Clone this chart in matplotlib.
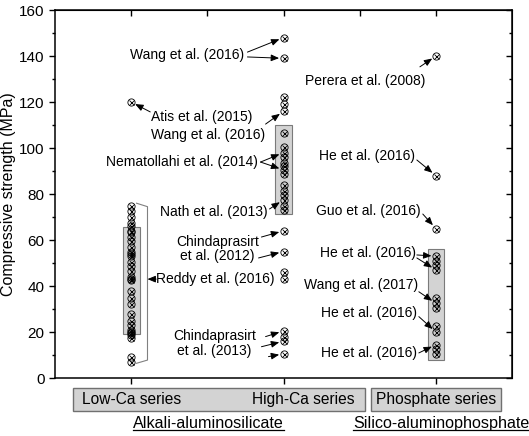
import matplotlib
matplotlib.use("Agg")
import matplotlib.pyplot as plt
from matplotlib.patches import Rectangle
from matplotlib.ticker import MultipleLocator

plt.rcParams['font.family'] = ['Liberation Sans', 'DejaVu Sans']

# category positions on the x axis
positions = [1, 2, 3]
series_labels = ["Low-Ca series", "High-Ca series", "Phosphate series"]
group_labels = ["Alkali-aluminosilicate", "Silico-aluminophosphate"]

# compressive strength (MPa)
low_ca = [75, 72.5, 70, 67.5, 66, 64, 63.5, 61.5, 59.5, 57, 55, 54, 53, 50.5,
          48.5, 46.5, 44, 43, 42.5, 38, 35, 32, 28, 25, 23, 21, 20, 19.5,
          18.5, 17.5, 9, 7]
low_ca_atis = [120]
high_ca = [148, 139, 122, 119, 116, 106.5, 100.5, 98, 96, 93.5, 92, 90.5,
           88.5, 84, 81.5, 79.5, 77.5, 75, 73, 64, 55, 46, 43, 20.5, 18, 16,
           10.5]
phosphate = [140, 88, 65, 53, 51, 49, 47, 35, 32.5, 30.5, 22.5, 20,
             14.5, 12.5, 10.5]

# shaded ranges (low, high)
box_ranges = [(19, 65.5), (71.5, 110), (8, 56)]

# annotations: text, text anchor (x, y), ha, arrows [(start x, start y, series, value)]
notes = [
    ("Wang et al. (2016)", (1.743, 140.4), "right",
     [(1.763, 141.7, 1, 148), (1.763, 139.6, 1, 139)]),
    ("Atis et al. (2015)", (1.132, 113.5), "left",
     [(1.125, 115.7, 0, 120)]),
    ("Wang et al. (2016)", (1.132, 105.7), "left",
     [(1.882, 110.4, 1, 116)]),
    ("Nematollahi et al. (2014)", (1.829, 93.9), "right",
     [(1.849, 93.9, 1, 98), (1.849, 93.9, 1, 90.5)]),
    ("Nath et al. (2013)", (1.895, 72.2), "right",
     [(1.908, 73.5, 1, 77.5)]),
    ("Chindaprasirt\net al. (2012)", (1.566, 56.1), "center",
     [(1.855, 61.3, 1, 64), (1.836, 52.2, 1, 55)]),
    ("Chindaprasirt\net al. (2013)", (1.546, 15.0), "center",
     [(1.882, 18.0, 1, 20.5), (1.855, 13.6, 1, 16), (1.901, 9.3, 1, 10.5)]),
    ("Perera et al. (2008)", (2.533, 129.1), "center",
     [(2.895, 135.3, 2, 140)]),
    ("He et al. (2016)", (2.862, 96.5), "right",
     [(2.875, 94.8, 2, 88)]),
    ("Guo et al. (2016)", (2.901, 72.6), "right",
     [(2.914, 71.3, 2, 65)]),
    ("He et al. (2016)", (2.868, 54.3), "right",
     [(2.875, 53.5, 2, 53), (2.875, 52.2, 2, 47)]),
    ("Wang et al. (2017)", (2.882, 40.4), "right",
     [(2.888, 37.5, 2, 32.5)]),
    ("He et al. (2016)", (2.875, 28.3), "right",
     [(2.888, 26.7, 2, 20)]),
    ("He et al. (2016)", (2.875, 10.9), "right",
     [(2.888, 10.9, 2, 14.5)]),
]

fig = plt.figure(figsize=(5.29, 4.36), dpi=100)
ax = fig.add_axes([0.104, 0.133, 0.864, 0.844])

# shaded boxes
for x, (lo, hi) in zip(positions, box_ranges):
    ax.add_patch(Rectangle((x - 0.055, lo), 0.11, hi - lo, facecolor="#d3d3d3",
                           edgecolor="#7a7a7a", lw=0.8, zorder=1))


def crossed_circles(x, vals):
    xs = [x] * len(vals)
    ax.plot(xs, vals, "o", ms=5.2, mfc="none", mec="k", mew=0.6, zorder=3)
    ax.plot(xs, vals, "x", ms=3.6, color="k", mew=0.6, zorder=3)


crossed_circles(positions[0], low_ca + low_ca_atis)
crossed_circles(positions[1], high_ca)
crossed_circles(positions[2], phosphate)

# bracket around the Reddy et al. data
bx0, bx1 = positions[0] + 0.035, positions[0] + 0.107
ax.plot([bx0, bx1, bx1, bx0],
        [max(low_ca) + 1, max(low_ca) - 0.5, min(low_ca) + 0.8, min(low_ca) - 0.6],
        color="#808080", lw=0.8, zorder=2)
ax.text(1.164, 43, "Reddy et al. (2016)", fontsize=10, ha="left", va="center")
ax.annotate("", xy=(bx1, 43), xytext=(1.164, 43),
            arrowprops=dict(arrowstyle="-|>,head_length=0.6,head_width=0.25",
                            mutation_scale=8, lw=0.7, color="k",
                            shrinkA=0, shrinkB=0))

for text, (tx, ty), ha, arrows in notes:
    ax.text(tx, ty, text, fontsize=10, ha=ha, va="center",
            multialignment="center", linespacing=1.05)
    for sx, sy, s, v in arrows:
        ax.annotate("", xy=(positions[s], v), xytext=(sx, sy),
                    arrowprops=dict(arrowstyle="-|>,head_length=0.6,head_width=0.25",
                                    mutation_scale=8, lw=0.7, color="k",
                                    shrinkA=0, shrinkB=3.2))

ax.set_xlim(0.5, 3.5)
ax.set_ylim(0, 160)
ax.set_xticks(positions)
ax.set_xticklabels([])
ax.yaxis.set_major_locator(MultipleLocator(20))
ax.yaxis.set_minor_locator(MultipleLocator(10))
ax.tick_params(axis="both", which="major", direction="out", length=4, width=1,
               labelsize=11)
ax.tick_params(axis="y", which="minor", direction="out", length=2.2, width=1)
for sp in ax.spines.values():
    sp.set_linewidth(1.1)

# mirrored ticks pointing inward
right = ax.secondary_yaxis("right")
right.yaxis.set_major_locator(MultipleLocator(20))
right.yaxis.set_minor_locator(MultipleLocator(10))
right.tick_params(which="major", direction="in", length=4, width=1, labelright=False)
right.tick_params(which="minor", direction="in", length=2.2, width=1)
top = ax.secondary_xaxis("top")
top.set_xticks([1, 1.5, 2, 2.5, 3])
top.tick_params(direction="in", length=4, width=1, labeltop=False)

ax.set_ylabel("Compressive strength (MPa)", fontsize=11.5)
ax.yaxis.set_label_coords(-0.086, 0.5)

# category label boxes below the axis
fig.patches.append(Rectangle((0.138, 0.0573), 0.552, 0.0527, transform=fig.transFigure,
                             facecolor="#d3d3d3", edgecolor="#707070", lw=1))
fig.patches.append(Rectangle((0.701, 0.0573), 0.246, 0.0527, transform=fig.transFigure,
                             facecolor="#d3d3d3", edgecolor="#707070", lw=1))
for lbl, fx in zip(series_labels, [0.2485, 0.574, 0.825]):
    fig.text(fx, 0.0826, lbl, fontsize=11.2, ha="center", va="center")

group_texts = []
for lbl, fx in zip(group_labels, [0.394, 0.834]):
    group_texts.append(fig.text(fx, 0.028, lbl, fontsize=11.6, ha="center", va="center"))

# underline the group labels
fig.canvas.draw()
renderer = fig.canvas.get_renderer()
for t in group_texts:
    bb = t.get_window_extent(renderer).transformed(fig.transFigure.inverted())
    fig.lines.append(plt.Line2D([bb.x0, bb.x1], [bb.y0 + 0.002, bb.y0 + 0.002],
                                transform=fig.transFigure, color="k", lw=0.9))

fig.savefig("out.png", dpi=100)
